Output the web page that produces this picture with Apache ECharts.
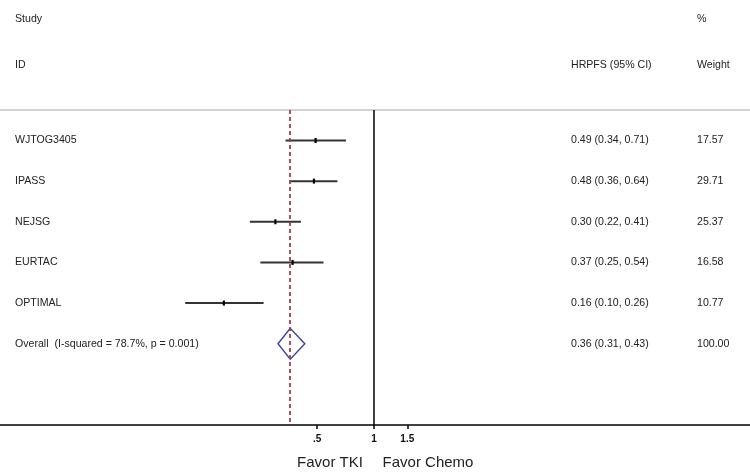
<!DOCTYPE html>
<html><head><meta charset="utf-8">
<script src="https://cdn.jsdelivr.net/npm/echarts@6/dist/echarts.min.js"></script>
<style>html,body{margin:0;padding:0;background:#fff}#c{width:750px;height:475px}</style>
</head><body><div id="c"></div>
<script>
const studies = ['WJTOG3405', 'IPASS', 'NEJSG', 'EURTAC', 'OPTIMAL'];
const hrEst = [0.49, 0.48, 0.30, 0.37, 0.16];
const ciLow = [0.34, 0.36, 0.22, 0.25, 0.10];
const ciHigh = [0.71, 0.64, 0.41, 0.54, 0.26];
const weights = ['17.57', '29.71', '25.37', '16.58', '10.77'];
const overallLabel = 'Overall  (I-squared = 78.7%, p = 0.001)';
const overallEst = 0.36, overallLow = 0.31, overallHigh = 0.43, overallWeight = '100.00';
const tickValues = [0.5, 1, 1.5];
const tickLabels = ['.5', '1', '1.5'];

const fmt = v => v.toFixed(2);
const rowLabels = studies.concat([overallLabel]);
const rowCI = hrEst.map((v, i) => fmt(v) + ' (' + fmt(ciLow[i]) + ', ' + fmt(ciHigh[i]) + ')')
  .concat([fmt(overallEst) + ' (' + fmt(overallLow) + ', ' + fmt(overallHigh) + ')']);
const rowW = weights.concat([overallWeight]);

const FONT = '10.6px "Liberation Sans", Arial, sans-serif';
const TXT = '#222';
const BIG = '15px "Liberation Sans", Arial, sans-serif';
const X_MIN = 0.01045, X_MAX = 98;

const chart = echarts.init(document.getElementById('c'));
chart.setOption({
  animation: false,
  grid: { left: 0, right: 0, top: 110, bottom: 50 },
  xAxis: [{
    type: 'log', logBase: 10, min: X_MIN, max: X_MAX, position: 'bottom',
    axisLine: { show: true, onZero: false, lineStyle: { color: '#000', width: 1.5 } },
    axisTick: { show: true, customValues: tickValues, length: 4, lineStyle: { color: '#000', width: 1.5 } },
    axisLabel: { show: true, customValues: tickValues, margin: 9,
      formatter: v => tickLabels[tickValues.findIndex(t => Math.abs(t - v) < 1e-6)] || '',
      color: '#111', fontSize: 10, fontWeight: 'bold', fontFamily: 'Liberation Sans, Arial, sans-serif' },
    splitLine: { show: false }, minorTick: { show: false }
  }, {
    type: 'log', logBase: 10, min: X_MIN, max: X_MAX, position: 'top',
    axisLine: { show: true, onZero: false, lineStyle: { color: '#c4c4c4', width: 1.5 } },
    axisTick: { show: false }, axisLabel: { show: false }, splitLine: { show: false }
  }],
  yAxis: { type: 'value', inverse: true, min: -0.75, max: 7, show: false, splitLine: { show: false } },
  series: [
    {
      type: 'custom', xAxisIndex: 0,
      data: hrEst.map((v, i) => [i, ciLow[i], ciHigh[i], v]),
      renderItem: (params, api) => {
        const i = api.value(0);
        const a = api.coord([api.value(1), i]);
        const b = api.coord([api.value(2), i]);
        const m = api.coord([api.value(3), i]);
        return { type: 'group', children: [
          { type: 'line', shape: { x1: a[0], y1: a[1], x2: b[0], y2: b[1] }, style: { stroke: '#333', lineWidth: 2 } },
          { type: 'rect', shape: { x: m[0] - 1, y: m[1] - 2.5, width: 2.2, height: 5 }, style: { fill: '#000' } }
        ] };
      },
      markLine: {
        silent: true, symbol: 'none', label: { show: false },
        data: [
          { xAxis: 1, lineStyle: { color: '#000', width: 1.5, type: 'solid' } },
          { xAxis: overallEst, lineStyle: { color: '#a0404a', width: 1.8, type: [4, 3] } }
        ]
      },
      z: 3
    },
    {
      type: 'custom', xAxisIndex: 0,
      data: [[5, overallLow, overallHigh, overallEst]],
      renderItem: (params, api) => {
        const i = api.value(0);
        const a = api.coord([api.value(1), i]);
        const b = api.coord([api.value(2), i]);
        const m = api.coord([api.value(3), i]);
        const h = 15.5;
        return { type: 'polygon', shape: { points: [[a[0], a[1]], [m[0], m[1] - h], [b[0], b[1]], [m[0], m[1] + h]] },
          style: { fill: 'none', stroke: '#40409c', lineWidth: 1.4 } };
      },
      z: 4
    },
    {
      type: 'custom', xAxisIndex: 0,
      data: rowLabels.map((s, i) => [i, 1]),
      renderItem: (params, api) => {
        const i = api.value(0);
        const y = api.coord([1, i])[1];
        return { type: 'group', children: [
          { type: 'text', style: { text: rowLabels[i], x: 15, y: y, verticalAlign: 'middle', font: FONT, fill: TXT } },
          { type: 'text', style: { text: rowCI[i], x: 571, y: y, verticalAlign: 'middle', font: FONT, fill: TXT } },
          { type: 'text', style: { text: rowW[i], x: 697, y: y, verticalAlign: 'middle', font: FONT, fill: TXT } }
        ] };
      },
      z: 5
    }
  ],
  graphic: [
    { type: 'text', x: 15, y: 19, style: { text: 'Study', font: FONT, fill: TXT, verticalAlign: 'middle' } },
    { type: 'text', x: 15, y: 65, style: { text: 'ID', font: FONT, fill: TXT, verticalAlign: 'middle' } },
    { type: 'text', x: 571, y: 65, style: { text: 'HRPFS (95% CI)', font: FONT, fill: TXT, verticalAlign: 'middle' } },
    { type: 'text', x: 697, y: 19, style: { text: '%', font: FONT, fill: TXT, verticalAlign: 'middle' } },
    { type: 'text', x: 697, y: 65, style: { text: 'Weight', font: FONT, fill: TXT, verticalAlign: 'middle' } },
    { type: 'text', x: 330, y: 463, style: { text: 'Favor TKI', font: BIG, fill: '#222', align: 'center', verticalAlign: 'middle' } },
    { type: 'text', x: 428, y: 463, style: { text: 'Favor Chemo', font: BIG, fill: '#222', align: 'center', verticalAlign: 'middle' } }
  ]
});
</script></body></html>
